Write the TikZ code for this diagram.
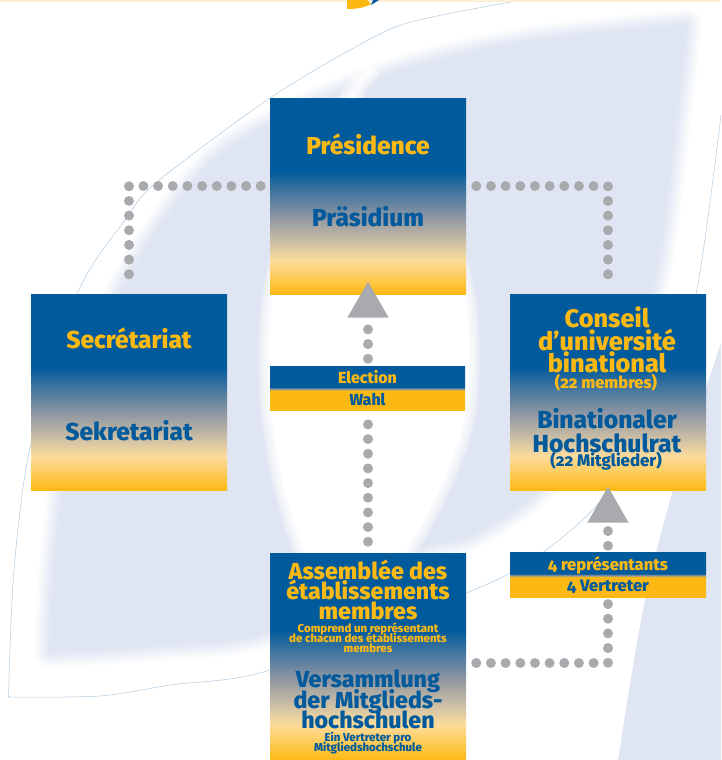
\documentclass[tikz,border=0pt]{standalone}
\usepackage{fontspec}
\usepackage{tikz}
\usetikzlibrary{shapes.geometric}
\setmainfont{Fira Sans}[Numbers=OldStyle, BoldFont={Fira Sans ExtraBold}]

\definecolor{uniblue}{HTML}{005A9C}
\definecolor{unigold}{HTML}{FDB913}
\definecolor{unipale}{HTML}{FDDC9B}
\definecolor{unisand}{HTML}{D9C7A4}
\definecolor{unigrey}{HTML}{9097A3}
\definecolor{dotgrey}{HTML}{A9AAAE}
\definecolor{leafpale}{HTML}{DFE5F2}
\definecolor{leafline}{HTML}{B3CDE0}
\definecolor{topband}{HTML}{FDF0D6}

\pgfdeclareverticalshading{boxshade}{100bp}{color(0bp)=(unigold); color(25bp)=(unigold); color(33.5bp)=(unipale); color(37bp)=(unisand); color(44.5bp)=(unigrey); color(56.5bp)=(uniblue); color(100bp)=(uniblue)}
\pgfdeclareverticalshading{barshade}{100bp}{color(0bp)=(unigold); color(25bp)=(unigold); color(47bp)=(unigold); color(49bp)=(unigrey); color(51bp)=(uniblue); color(100bp)=(uniblue)}

\newcommand{\boxfont}[2]{\bfseries\fontsize{#1}{#2}\selectfont\lineskiplimit=-20pt\relax}

\tikzset{
	mainbox/.style={shape=rectangle, inner sep=0pt, minimum width=147pt, minimum height=147pt, shading=boxshade},
	barbox/.style={shape=rectangle, inner sep=0pt, minimum width=147pt, minimum height=33pt, shading=barshade},
	dotline/.style={draw=dotgrey, line width=7.5pt, line cap=round, dash pattern=on 0pt off 11pt},
	arrowtip/.style={shape=isosceles triangle, shape border rotate=90, isosceles triangle stretches, fill=dotgrey, inner sep=0pt, minimum width=31pt, minimum height=27pt, anchor=apex},
	frtext/.style={text=unigold, align=center, inner sep=0pt},
	detext/.style={text=uniblue, align=center, inner sep=0pt}
}

\newcommand{\leafpath}{plot[smooth,tension=0.6] coordinates {(50,652) (55,560) (75,420) (120,293) (200,175) (270,125) (388,75) (520,43) (686,25)} -- plot[smooth,tension=0.6] coordinates {(686,25) (678,100) (651,294) (600,420) (538,490) (470,535) (410,552) (270,630) (160,645) (50,652)} -- cycle}
\newcommand{\glowpath}{plot[smooth,tension=0.5] coordinates {(372,68) (348,100) (300,180) (272,300) (270,400) (282,480) (305,553) (355,640) (406,552) (438,493) (466,413) (466,300) (430,190) (356,104) (372,68)}}

\begin{document}
\begin{tikzpicture}[x=0.75pt, y=-0.75pt]
	\useasboundingbox (0,0) rectangle (721,760);
	
	\foreach \w/\p in {24/8, 21/20, 18/32, 15/44, 12/56, 9/68, 6/80, 3/90}
		\draw[draw=leafpale!\p!white, line width=\w pt, line join=round] \leafpath;
	\fill[leafpale] \leafpath;
	\foreach \w in {16, 14, 12, 10, 8, 6, 4, 2}
		\draw[draw=white, opacity=0.2, line width=\w pt, line join=round] \glowpath;
	\fill[white] \glowpath;
	\fill[leafpale] plot[smooth] coordinates {(721,343) (673,490) (643,610) (618,760)} -- (721,760) -- cycle;
	
	\draw[leafline, line width=0.4pt] plot[smooth] coordinates {(8.5,697) (14,570) (31,443) (77,294) (125,220) (157,182) (270,98) (361,44) (411,22) (511,2) (560,-4)};
	\draw[leafline, line width=0.4pt] plot[smooth] coordinates {(8.5,697) (100,696) (170,685) (270,670) (466,593) (510,573) (545,551) (601,500) (660,400) (696,294) (721,115)};
	
	\fill[topband] (0,0) rectangle (721,2);
	\fill[unigold] (347,0) -- (347,9) .. controls (356,9) and (364,8) .. (371,4) -- (367,0) -- cycle;
	\fill[uniblue] (373,0) -- (371,5) -- (379,0) -- cycle;
	
	\node[mainbox] (pres) at (368,196) {};
	\node[mainbox] (secr) at (129,392) {};
	\node[mainbox] (cons) at (608,392) {};
	\node[mainbox, minimum height=155.25pt] (asse) at (368,656.5) {};
	\node[barbox, minimum width=146.25pt] (elec) at (367.5,388) {};
	\node[barbox, minimum height=33.75pt] (repr) at (608,574.5) {};
	
	\node[arrowtip] (tipP) at (368,281) {};
	\node[arrowtip] (tipC) at (608,486) {};
	
	\coordinate (cornTL) at (129,186);
	\coordinate (cornTR) at (608,186);
	\coordinate (cornBR) at (608,663);
	
	\path[dotline, shorten <=6.75pt, shorten >=14.5pt] (pres.west |- cornTL) -- (cornTL) -- (secr.north);
	\path[dotline, shorten <=7.5pt, shorten >=14.5pt] (pres.east |- cornTR) -- (cornTR) -- (cons.north);
	\path[dotline, shorten <=7.5pt, shorten >=5pt] (asse.east |- cornBR) -- (cornBR) -- (repr.south);
	\path[dotline, shorten <=4.5pt, shorten >=6pt] (repr.north) -- (tipC.south);
	\path[dotline, shorten <=8.25pt, shorten >=10pt] (asse.north) -- (asse.north |- elec.south);
	\path[dotline, shorten <=5.25pt, shorten >=8pt] (asse.north |- elec.north) -- (tipP.south);
	
	\node[frtext, font=\boxfont{18.4}{18}] (presFr) at (368,144.5) {Présidence};
	\node[detext, font=\boxfont{18.4}{18}] (presDe) at (368,216.5) {Präsidium};
	\node[frtext, font=\boxfont{18.4}{18}] (secrFr) at (129,338) {Secrétariat};
	\node[detext, font=\boxfont{18.4}{18}] (secrDe) at (129,431) {Sekretariat};
	
	\node[frtext, font=\boxfont{19}{16.9}] (consFr) at (607,340) {Conseil\\d’université\\binational};
	\node[frtext, font=\boxfont{12.4}{12}] (consFrNb) at (606,382.5) {(22 membres)};
	\node[detext, font=\boxfont{18.5}{18}] (consDe) at (607,431) {Binationaler\\Hochschulrat};
	\node[detext, font=\boxfont{12.6}{12}] (consDeNb) at (606,461) {(22 Mitglieder)};
	
	\node[frtext, font=\boxfont{17.4}{15}] (asseFr) at (368,590) {Assemblée des\\établissements\\membres};
	\node[frtext, font=\boxfont{8.6}{7.5}] (asseFrSub) at (368,638) {Comprend un représentant\\de chacun des établissements\\membres};
	\node[detext, font=\boxfont{17.4}{15.4}] (asseDe) at (368,699.5) {Versammlung\\der Mitglieds-\\hochschulen};
	\node[detext, font=\boxfont{8.6}{7.5}] (asseDeSub) at (368,743) {Ein Vertreter pro\\Mitgliedshochschule};
	
	\node[frtext, font=\boxfont{12}{12}] (elecFr) at (367.5,377) {Election};
	\node[detext, font=\boxfont{12}{12}] (elecDe) at (367.5,400) {Wahl};
	\node[frtext, font=\boxfont{12.4}{12}] (reprFr) at (608,565) {4 représentants};
	\node[detext, font=\boxfont{12.4}{12}] (reprDe) at (608,587) {4 Vertreter};
	
\end{tikzpicture}
\end{document}
